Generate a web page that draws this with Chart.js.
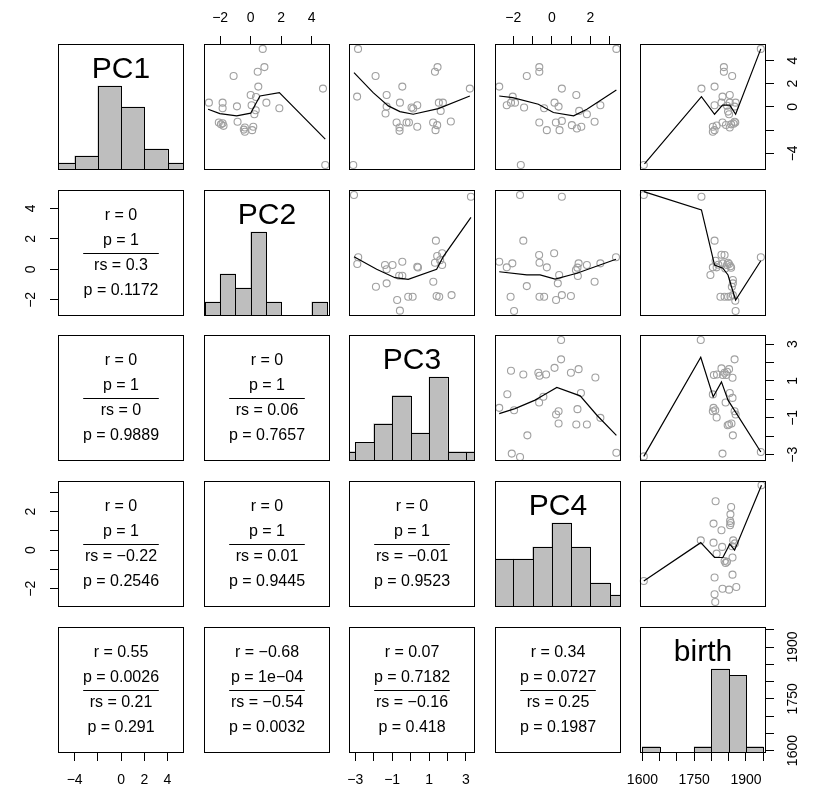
<!DOCTYPE html>
<html>
<head>
<meta charset="utf-8">
<script src="https://cdn.jsdelivr.net/npm/chart.js@4.4.1/dist/chart.umd.min.js"></script>
<style>
  html, body { margin: 0; padding: 0; background: #ffffff; }
  #wrap { position: relative; width: 816px; height: 791px; overflow: hidden; background: #ffffff; }
  #wrap canvas { position: absolute; }
</style>
</head>
<body>
<div id="wrap"></div>
<script>
// ---------------- DATA ----------------
const varNames = ['PC1', 'PC2', 'PC3', 'PC4', 'birth'];
const axisMin = [-5.43, -3.06, -3.34, -2.95, 1593];
const axisMax = [5.42, 5.20, 3.49, 3.59, 1958];

const ticks_PC1 = [-4, -2, 0, 2, 4];
const ticks_PC2 = [-2, 0, 2, 4];
const ticks_PC3 = [-3, -2, -1, 0, 1, 2, 3];
const ticks_PC4 = [-2, -1, 0, 1, 2, 3];
const ticks_birth = [1600, 1650, 1700, 1750, 1800, 1850, 1900, 1950];
const tickLabels_PC1 = ['\u22124', '', '0', '2', '4'];
const tickLabels_PC2 = ['\u22122', '0', '2', '4'];
const tickLabels_PC3 = ['\u22123', '', '\u22121', '', '1', '', '3'];
const tickLabels_PC4 = ['\u22122', '', '0', '', '2', ''];
const tickLabels_birth = ['1600', '', '', '1750', '', '', '1900', ''];

const histBreaks_PC1 = [-6, -4, -2, 0, 2, 4, 6];
const histCounts_PC1 = [1, 2, 12, 9, 3, 1];
const histBreaks_PC2 = [-3, -2, -1, 0, 1, 2, 3, 4, 5];
const histCounts_PC2 = [2, 6, 4, 12, 2, 0, 0, 2];
const histBreaks_PC3 = [-4, -3, -2, -1, 0, 1, 2, 3, 4];
const histCounts_PC3 = [1, 2, 4, 7, 3, 9, 1, 1];
const histBreaks_PC4 = [-3, -2, -1, 0, 1, 2, 3, 4];
const histCounts_PC4 = [4, 4, 5, 7, 5, 2, 1];
const histBreaks_birth = [1600, 1650, 1700, 1750, 1800, 1850, 1900, 1950];
const histCounts_birth = [1, 0, 0, 1, 13, 12, 1];

// correlation text (lower panels): row var vs column var
const cor_PC2_PC1 = ['r = 0', 'p = 1', 'rs = 0.3', 'p = 0.1172'];
const cor_PC3_PC1 = ['r = 0', 'p = 1', 'rs = 0', 'p = 0.9889'];
const cor_PC3_PC2 = ['r = 0', 'p = 1', 'rs = 0.06', 'p = 0.7657'];
const cor_PC4_PC1 = ['r = 0', 'p = 1', 'rs = \u22120.22', 'p = 0.2546'];
const cor_PC4_PC2 = ['r = 0', 'p = 1', 'rs = 0.01', 'p = 0.9445'];
const cor_PC4_PC3 = ['r = 0', 'p = 1', 'rs = \u22120.01', 'p = 0.9523'];
const cor_birth_PC1 = ['r = 0.55', 'p = 0.0026', 'rs = 0.21', 'p = 0.291'];
const cor_birth_PC2 = ['r = \u22120.68', 'p = 1e\u221204', 'rs = \u22120.54', 'p = 0.0032'];
const cor_birth_PC3 = ['r = 0.07', 'p = 0.7182', 'rs = \u22120.16', 'p = 0.418'];
const cor_birth_PC4 = ['r = 0.34', 'p = 0.0727', 'rs = 0.25', 'p = 0.1987'];

// scatter points (upper panels): [x, y]
const pts_PC2_PC1 = [[0.79,5.0],[0.9,3.43],[0.46,3.03],[-1.12,2.66],[0.5,1.75],[4.74,1.58],[0.0,1.03],
  [-2.74,0.37],[-1.84,0.37],[-1.84,-0.11],[-0.9,0.05],[0.06,0.15],[0.33,-0.28],[0.24,-0.63],[1.03,0.37],[1.88,-0.11],
  [-2.09,-1.34],[-1.84,-1.4],[-1.78,-1.63],[-0.86,-1.28],[-0.38,-1.77],[-0.38,-2.14],[0.17,-1.71],[0.1,-2.0],[4.89,-5.0],
  [0.35,0.85],[-1.95,-1.5],[-0.45,-1.95]];
const pts_PC3_PC1 = [[-2.85,5.0],[-1.9,2.66],[-2.9,0.89],[-1.3,1.03],[-0.45,1.75],[-0.58,0.37],[-1.3,0.03],[-1.36,-0.57],
  [-0.76,-1.34],[-0.6,-1.77],[-0.6,-2.06],[-0.22,-1.34],[-3.11,-5.0],[1.46,3.43],[1.32,3.03],[3.21,1.58],[0.14,-0.14],
  [0.36,0.15],[1.53,0.37],[1.75,0.37],[1.63,-0.34],[1.22,-1.34],[1.44,-1.57],[1.35,-2.0],[0.36,-1.71],[2.18,-1.25],
  [-0.09,-1.34],[0.05,-0.05]];
const pts_PC4_PC1 = [[-2.73,1.75],[-1.3,2.66],[-0.65,3.43],[-0.65,3.03],[0.52,1.58],[1.27,1.03],[-2.03,0.89],[-2.34,0.15],
  [-2.12,0.37],[-1.91,0.37],[-1.44,-0.05],[-0.4,-0.11],[0.14,0.37],[0.35,0.03],[1.42,-0.34],[1.82,-0.63],[2.52,0.15],
  [-0.65,-1.34],[-0.26,-2.0],[0.21,-1.34],[0.4,-2.0],[0.52,-1.2],[1.04,-1.57],[1.3,-1.85],[1.53,-1.71],[2.22,-1.28],
  [3.35,5.0],[-1.61,-5.0]];
const pts_birth_PC1 = [[1604,-5.0],[1943,5.0],[1771,1.58],[1809,1.75],[1836,3.43],[1836,3.03],[1860,2.66],[1832,0.89],
  [1853,1.03],[1809,0.15],[1829,0.37],[1853,0.37],[1870,0.37],[1848,-0.4],[1851,-0.63],[1867,-1.28],[1869,-1.34],
  [1864,-1.45],[1832,-1.34],[1842,-1.55],[1804,-1.71],[1809,-2.0],[1804,-2.14],[1853,-1.77],[1867,0.03],[1857,-1.5],
  [1845,0.1],[1815,-1.6]];
const pts_PC3_PC2 = [[-3.07,4.87],[3.27,4.76],[1.37,1.88],[1.44,0.87],[1.71,1.05],[1.32,0.43],[1.71,0.28],[-2.84,0.79],
  [-2.89,0.35],[-1.39,0.28],[-1.3,0.0],[-0.98,0.28],[-0.45,0.5],[-0.62,-0.42],[-0.45,-0.42],[0.36,0.17],[0.4,0.12],
  [1.23,-0.81],[-1.88,-1.14],[-1.3,-0.92],[-0.73,-2.01],[-0.13,-1.8],[0.11,-1.8],[1.41,-1.75],[1.55,-1.8],[2.22,-1.69],
  [-0.58,-2.71],[1.6,0.6]];
const pts_PC4_PC2 = [[-1.65,4.87],[0.52,4.76],[-1.48,1.88],[0.12,1.05],[-0.66,0.94],[-0.64,0.43],[-2.73,0.5],[-2.34,0.13],
  [-2.05,0.39],[-0.26,0.13],[0.38,-0.37],[0.31,-0.92],[1.39,0.39],[1.33,0.11],[1.25,-0.05],[1.35,-0.44],[1.82,0.28],
  [2.52,0.39],[3.33,0.79],[2.22,-0.81],[-1.3,-1.1],[-2.14,-1.8],[-0.64,-1.8],[-0.4,-1.8],[0.52,-1.69],[0.22,-2.01],
  [0.99,-1.75],[-1.96,-2.73]];
const pts_birth_PC2 = [[1604,4.87],[1771,4.76],[1809,1.88],[1829,0.96],[1838,0.94],[1812,0.56],[1804,0.13],[1815,0.13],
  [1797,-0.37],[1833,0.39],[1848,0.43],[1855,0.2],[1857,0.1],[1851,0.35],[1943,0.79],[1862,-0.7],[1862,-0.92],
  [1859,-1.14],[1826,-1.8],[1838,-1.8],[1848,-1.8],[1855,-1.78],[1862,-1.69],[1869,-2.06],[1870,-2.73],[1845,0.28],
  [1820,0.3],[1840,0.05]];
const pts_PC4_PC3 = [[0.48,3.22],[0.48,2.17],[0.14,1.71],[1.39,1.64],[0.99,1.44],[-2.12,1.55],[-1.48,1.35],[-0.7,1.44],
  [-0.64,1.28],[-0.3,1.35],[2.26,1.19],[-2.31,0.28],[1.51,0.35],[-0.44,0.14],[-0.66,-0.17],[-2.73,-0.46],[-1.96,-0.59],
  [1.33,-0.53],[0.35,-0.64],[0.22,-0.82],[0.35,-1.31],[1.27,-1.36],[1.82,-1.36],[2.52,-1.0],[-1.27,-1.95],[-2.08,-2.94],
  [-1.65,-3.12],[3.35,-2.89]];
const pts_birth_PC3 = [[1604,-3.09],[1769,3.22],[1943,-2.85],[1867,2.17],[1807,1.32],[1816,1.35],[1829,1.68],[1838,1.44],
  [1851,1.64],[1833,1.32],[1843,1.32],[1861,1.17],[1804,0.27],[1853,0.35],[1861,0.08],[1806,-0.46],[1811,-0.59],
  [1804,-0.64],[1815,-0.98],[1841,-0.17],[1867,-0.64],[1870,-0.82],[1851,-1.36],[1858,-1.31],[1862,-1.95],[1832,-2.94],
  [1847,-1.4],[1845,1.5]];
const pts_birth_PC4 = [[1604,-1.6],[1945,3.37],[1812,2.54],[1857,2.24],[1855,1.86],[1854,1.52],[1856,1.41],[1854,1.29],
  [1806,1.38],[1829,1.03],[1769,0.51],[1806,0.39],[1831,0.17],[1815,-0.18],[1863,0.51],[1868,0.35],[1860,0.2],
  [1838,-0.56],[1841,-0.67],[1861,-0.38],[1809,-1.42],[1861,-1.27],[1832,-2.0],[1851,-2.05],[1872,-1.91],[1809,-2.29],
  [1811,-2.69],[1845,-0.6]];

// smoother lines (upper panels)
const smooth_PC2_PC1 = [[-2.79,-0.2],[-2.02,-0.57],[-0.92,-0.77],[0.0,-0.54],[0.28,0.15],[0.61,0.94],[1.88,1.23],[4.89,-2.77]];
const smooth_PC3_PC1 = [[-3.07,2.95],[-2.03,1.23],[-1.21,0.09],[-0.58,-0.4],[0.14,-0.63],[1.5,-0.14],[3.21,0.94]];
const smooth_PC4_PC1 = [[-2.73,0.94],[-2.03,0.8],[-0.7,0.23],[0.08,-0.48],[1.13,-0.77],[1.82,-0.2],[3.35,1.46]];
const smooth_birth_PC1 = [[1606,-4.91],[1771,0.89],[1809,-0.63],[1832,0.15],[1853,0.15],[1870,-0.63],[1943,5.0]];
const smooth_PC3_PC2 = [[-3.07,0.83],[-1.84,0.0],[-0.85,-0.55],[-0.13,-0.66],[1.41,0.0],[1.77,0.83],[3.27,3.41]];
const smooth_PC4_PC2 = [[-2.73,-0.16],[-1.3,-0.37],[-0.61,-0.37],[0.17,-0.64],[1.3,-0.26],[3.33,0.66]];
const smooth_birth_PC2 = [[1604,5.09],[1771,3.89],[1809,0.28],[1833,0.07],[1848,-0.37],[1858,-1.14],[1870,-2.01],[1943,0.56]];
const smooth_PC4_PC3 = [[-2.73,-0.77],[-1.91,-0.5],[-0.87,-0.04],[-0.44,0.23],[0.26,0.65],[1.47,0.19],[2.34,-0.86],[3.35,-1.95]];
const smooth_birth_PC3 = [[1604,-3.09],[1769,2.28],[1805,0.14],[1829,0.95],[1848,-0.04],[1943,-2.85]];
const smooth_birth_PC4 = [[1604,-1.6],[1769,0.39],[1809,-0.38],[1833,-0.38],[1853,0.31],[1867,0.0],[1945,3.37]];

// ---------------- ASSEMBLY ----------------
const tickValues = [ticks_PC1, ticks_PC2, ticks_PC3, ticks_PC4, ticks_birth];
const tickLabels = [tickLabels_PC1, tickLabels_PC2, tickLabels_PC3, tickLabels_PC4, tickLabels_birth];
const histBreaks = [histBreaks_PC1, histBreaks_PC2, histBreaks_PC3, histBreaks_PC4, histBreaks_birth];
const histCounts = [histCounts_PC1, histCounts_PC2, histCounts_PC3, histCounts_PC4, histCounts_birth];
const lowerText = {
  '1,0': cor_PC2_PC1, '2,0': cor_PC3_PC1, '2,1': cor_PC3_PC2,
  '3,0': cor_PC4_PC1, '3,1': cor_PC4_PC2, '3,2': cor_PC4_PC3,
  '4,0': cor_birth_PC1, '4,1': cor_birth_PC2, '4,2': cor_birth_PC3, '4,3': cor_birth_PC4
};
const upperData = {
  '0,1': [pts_PC2_PC1, smooth_PC2_PC1], '0,2': [pts_PC3_PC1, smooth_PC3_PC1],
  '0,3': [pts_PC4_PC1, smooth_PC4_PC1], '0,4': [pts_birth_PC1, smooth_birth_PC1],
  '1,2': [pts_PC3_PC2, smooth_PC3_PC2], '1,3': [pts_PC4_PC2, smooth_PC4_PC2],
  '1,4': [pts_birth_PC2, smooth_birth_PC2], '2,3': [pts_PC4_PC3, smooth_PC4_PC3],
  '2,4': [pts_birth_PC3, smooth_birth_PC3], '3,4': [pts_birth_PC4, smooth_birth_PC4]
};

// ---------------- LAYOUT / STYLE ----------------
const wrap = document.getElementById('wrap');
const BOX = 126, M = 50;
const COLS = [58, 204, 349, 495, 640];
const ROWS = [44, 190, 335, 481, 627];
const FONT = "'Liberation Sans', Arial, Helvetica, sans-serif";
const TICK_FONT = 14;
Chart.defaults.font.family = FONT;
Chart.defaults.color = '#000';

function tickPad(v, pos) {
  if (pos === 'top') return 9.1;
  if (pos === 'bottom') return 10.6;
  if (pos === 'left') return 10.5;
  return v === 4 ? 3.9 : 11.5;
}

function visAxis(v, pos, axis) {
  const horiz = pos === 'top' || pos === 'bottom';
  return {
    axis: axis, type: 'linear', position: pos, display: true, offset: false,
    min: axisMin[v], max: axisMax[v], beginAtZero: false,
    afterBuildTicks: s => { s.ticks = tickValues[v].map(t => ({ value: t })); },
    afterFit: s => { if (horiz) s.height = M; else s.width = M; },
    grid: { display: true, offset: false, drawOnChartArea: false, drawTicks: true, tickLength: 8, color: '#000', lineWidth: 1 },
    border: { display: false },
    ticks: {
      autoSkip: false, padding: tickPad(v, pos), color: '#000',
      font: { family: FONT, size: TICK_FONT },
      minRotation: horiz ? 0 : 90, maxRotation: horiz ? 0 : 90,
      crossAlign: horiz ? 'near' : 'center',
      callback: (val, i) => tickLabels[v][i]
    }
  };
}
function hidAxis(axis, min, max, mids) {
  const c = { axis: axis, type: 'linear', display: false, offset: false, min: min, max: max, beginAtZero: false,
              grid: { offset: false } };
  if (mids) c.afterBuildTicks = s => { s.ticks = mids.map(t => ({ value: t })); };
  return c;
}

function drawBox(ctx, a) {
  ctx.strokeStyle = '#000'; ctx.lineWidth = 1;
  ctx.strokeRect(a.left + 0.5, a.top + 0.5, a.right - a.left - 1, a.bottom - a.top - 1);
}

function makeChart(i, j, scales, datasets, drawFn, sides) {
  const cv = document.createElement('canvas');
  const size = BOX + 2 * M;
  cv.width = size; cv.height = size;
  cv.style.width = size + 'px'; cv.style.height = size + 'px';
  cv.style.left = (COLS[j] - M) + 'px'; cv.style.top = (ROWS[i] - M) + 'px';
  wrap.appendChild(cv);
  new Chart(cv, {
    type: 'scatter',
    data: { datasets: datasets },
    options: {
      responsive: false, maintainAspectRatio: false, animation: false, devicePixelRatio: 1, events: [],
      layout: { padding: { top: sides.top ? 0 : M, bottom: sides.bottom ? 0 : M,
                           left: sides.left ? 0 : M, right: sides.right ? 0 : M } },
      plugins: { legend: { display: false }, tooltip: { enabled: false }, title: { display: false } },
      scales: scales
    },
    plugins: [{
      id: 'panel_' + i + '_' + j,
      afterDraw(chart) {
        const ctx = chart.ctx, a = chart.chartArea;
        ctx.save();
        if (drawFn) drawFn(chart, ctx, a);
        drawBox(ctx, a);
        ctx.restore();
      }
    }]
  });
}

for (let i = 0; i < 5; i++) {
  for (let j = 0; j < 5; j++) {
    const sides = {
      top: i === 0 && j % 2 === 1,
      bottom: i === 4 && j % 2 === 0,
      left: j === 0 && i % 2 === 1,
      right: j === 4 && i % 2 === 0
    };
    if (i === j) {
      // diagonal: histogram + name
      const br = histBreaks[i], cn = histCounts[i];
      const mids = cn.map((c, k) => (br[k] + br[k + 1]) / 2);
      const maxC = Math.max.apply(null, cn);
      const scales = {
        x: hidAxis('x', axisMin[i], axisMax[i], mids),
        y: hidAxis('y', 0, maxC * 1.5)
      };
      if (sides.bottom) scales.ax = visAxis(i, 'bottom', 'x');
      if (sides.right) scales.ay = visAxis(i, 'right', 'y');
      const ds = [{
        type: 'bar', xAxisID: 'x', yAxisID: 'y',
        data: mids.map((m, k) => ({ x: m, y: cn[k] })),
        backgroundColor: '#bebebe', borderWidth: 0, barPercentage: 1, categoryPercentage: 1,
        grouped: false, clip: 0
      }];
      const name = varNames[i];
      makeChart(i, j, scales, ds, (chart, ctx, a) => {
        const meta = chart.getDatasetMeta(0);
        ctx.save();
        ctx.beginPath(); ctx.rect(a.left, a.top, a.right - a.left, a.bottom - a.top); ctx.clip();
        ctx.strokeStyle = '#000'; ctx.lineWidth = 1;
        meta.data.forEach(el => {
          const p = el.getProps(['x', 'y', 'base', 'width'], true);
          if (Math.abs(p.base - p.y) < 0.5) return;
          const l = Math.round(p.x - p.width / 2), r = Math.round(p.x + p.width / 2);
          const t = Math.round(p.y), b = Math.round(p.base);
          ctx.strokeRect(l + 0.5, t + 0.5, r - l, b - t);
        });
        ctx.restore();
        ctx.fillStyle = '#000';
        ctx.font = '30px ' + FONT;
        ctx.textAlign = 'center'; ctx.textBaseline = 'alphabetic';
        ctx.fillText(name, (a.left + a.right) / 2, a.top + 33.5);
      }, sides);
    } else {
      const scales = {
        x: (sides.top || sides.bottom) ? visAxis(j, sides.top ? 'top' : 'bottom', 'x') : hidAxis('x', axisMin[j], axisMax[j]),
        y: (sides.left || sides.right) ? visAxis(i, sides.left ? 'left' : 'right', 'y') : hidAxis('y', axisMin[i], axisMax[i])
      };
      if (i > j) {
        // lower: correlation text
        scales.tx = hidAxis('x', 0, 1);
        scales.ty = hidAxis('y', 0, 1);
        const lines = lowerText[i + ',' + j];
        makeChart(i, j, scales, [], (chart, ctx, a) => {
          const sx = chart.scales.tx, sy = chart.scales.ty;
          ctx.fillStyle = '#000';
          ctx.font = '16px ' + FONT;
          ctx.textAlign = 'center'; ctx.textBaseline = 'middle';
          const cx = sx.getPixelForValue(0.5);
          ctx.fillText(lines[0], cx, sy.getPixelForValue(0.8));
          ctx.fillText(lines[1], cx, sy.getPixelForValue(0.6));
          ctx.fillText(lines[2], cx, sy.getPixelForValue(0.4));
          ctx.fillText(lines[3], cx, sy.getPixelForValue(0.2));
          const ly = Math.round(sy.getPixelForValue(0.5)) + 0.5;
          ctx.strokeStyle = '#000'; ctx.lineWidth = 1;
          ctx.beginPath();
          ctx.moveTo(sx.getPixelForValue(0.2), ly);
          ctx.lineTo(sx.getPixelForValue(0.8), ly);
          ctx.stroke();
        }, sides);
      } else {
        const pair = upperData[i + ',' + j];
        const ds = [
          { data: pair[1].map(p => ({ x: p[0], y: p[1] })), showLine: true, borderColor: '#000', borderWidth: 1.2,
            pointRadius: 0, fill: false, tension: 0, clip: 0 },
          { data: pair[0].map(p => ({ x: p[0], y: p[1] })), showLine: false, pointStyle: 'circle', pointRadius: 3.5,
            pointBorderWidth: 1.1, borderColor: '#a0a0a0', pointBorderColor: '#a0a0a0',
            backgroundColor: 'rgba(0,0,0,0)', pointBackgroundColor: 'rgba(0,0,0,0)', clip: false }
        ];
        makeChart(i, j, scales, ds, null, sides);
      }
    }
  }
}
</script>
</body>
</html>
